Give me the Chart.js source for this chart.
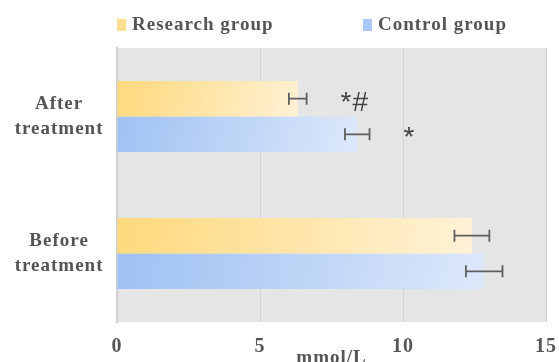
<!DOCTYPE html>
<html>
<head>
<meta charset="utf-8">
<script src="https://cdn.jsdelivr.net/npm/chart.js@4/dist/chart.umd.min.js"></script>
<style>
  html, body { margin: 0; padding: 0; background: #fff; }
  #wrap { width: 559px; height: 362px; }
</style>
</head>
<body>
<div id="wrap"><canvas id="c" width="559" height="362"></canvas></div>
<script>
// Blood glucose (mmol/L) before and after treatment
const categories = [['After', 'treatment'], ['Before', 'treatment']];
const seriesNames = ['Research group', 'Control group'];
const researchValues = [6.32, 12.41];
const controlValues = [8.40, 12.84];
const researchErrors = [0.31, 0.61];
const controlErrors = [0.43, 0.64];
const xTicks = [0, 5, 10, 15];
// significance marks shown beside the "After treatment" bars
const researchMarks = ['*#', ''];
const controlMarks = ['*', ''];

const SERIF = '"Liberation Serif", "Times New Roman", serif';
const TEXT = '#555555';

// horizontal gradient for each bar, from its base to its end
function barGradient(from, to) {
  return (ctx) => {
    if (ctx.type !== 'data') return from;
    const chart = ctx.chart;
    const xs = chart.scales.x, ys = chart.scales.y;
    if (!xs || !ys || !chart.chartArea) return from;
    const x0 = xs.getPixelForValue(0);
    const x1 = xs.getPixelForValue(ctx.raw);
    const yc = ys.getPixelForValue(ctx.dataIndex);
    const g = chart.ctx.createLinearGradient(x0, yc - 30, x1, yc + 30);
    g.addColorStop(0, from);
    g.addColorStop(1, to);
    return g;
  };
}

const plotBackground = {
  id: 'plotBackground',
  beforeDraw(chart) {
    const {ctx, chartArea: a} = chart;
    // slightly spaced lettering for all text on the canvas
    ctx.letterSpacing = '1px';
    ctx.save();
    ctx.fillStyle = '#e5e5e5';
    ctx.fillRect(a.left, a.top, a.right - a.left, a.bottom - a.top);
    ctx.restore();
  }
};

const errorBars = {
  id: 'errorBars',
  afterDatasetsDraw(chart) {
    const {ctx} = chart;
    const xs = chart.scales.x;
    ctx.save();
    ctx.strokeStyle = '#5f5f5f';
    ctx.lineWidth = 1.8;
    chart.data.datasets.forEach((ds, di) => {
      const meta = chart.getDatasetMeta(di);
      meta.data.forEach((bar, i) => {
        const v = ds.data[i], e = ds.errors[i];
        const xl = xs.getPixelForValue(v - e);
        const xr = xs.getPixelForValue(v + e);
        const y = bar.y, cap = 6;
        ctx.beginPath();
        ctx.moveTo(xl, y); ctx.lineTo(xr, y);
        ctx.moveTo(xl, y - cap); ctx.lineTo(xl, y + cap);
        ctx.moveTo(xr, y - cap); ctx.lineTo(xr, y + cap);
        ctx.stroke();
        const mark = ds.marks[i];
        if (mark) {
          ctx.fillStyle = '#444444';
          ctx.font = '28px "Liberation Sans", Arial, sans-serif';
          ctx.textAlign = 'left';
          ctx.textBaseline = 'alphabetic';
          ctx.fillText(mark, xr + 34, y + 12);
        }
      });
    });
    ctx.restore();
  }
};

const topLegend = {
  id: 'topLegend',
  afterDraw(chart) {
    const {ctx} = chart;
    const starts = [117, 363];
    ctx.save();
    ctx.font = 'bold 19px ' + SERIF;
    ctx.textBaseline = 'middle';
    ctx.textAlign = 'left';
    chart.data.datasets.forEach((ds, i) => {
      const x = starts[i];
      ctx.fillStyle = ds.legendColor;
      ctx.fillRect(x, 19, 9, 12);
      ctx.fillStyle = TEXT;
      ctx.fillText(ds.label, x + 15, 25);
    });
    ctx.restore();
  }
};

new Chart(document.getElementById('c'), {
  type: 'bar',
  data: {
    labels: categories,
    datasets: [
      {
        label: seriesNames[0],
        data: researchValues,
        errors: researchErrors,
        marks: researchMarks,
        legendColor: '#ffdf8f',
        backgroundColor: barGradient('#ffd97c', '#fff2d9'),
        borderWidth: 0,
        categoryPercentage: 0.52,
        barPercentage: 1.0
      },
      {
        label: seriesNames[1],
        data: controlValues,
        errors: controlErrors,
        marks: controlMarks,
        legendColor: '#a9c8f5',
        backgroundColor: barGradient('#9dc0f3', '#dde8fa'),
        borderWidth: 0,
        categoryPercentage: 0.52,
        barPercentage: 1.0
      }
    ]
  },
  options: {
    indexAxis: 'y',
    responsive: false,
    animation: false,
    devicePixelRatio: 1,
    layout: { padding: { top: 48, right: 13, bottom: 0, left: 0 } },
    plugins: {
      legend: { display: false },
      tooltip: { enabled: false }
    },
    scales: {
      x: {
        min: 0,
        max: 15,
        afterBuildTicks(scale) { scale.ticks = xTicks.map(v => ({ value: v })); },
        afterFit(scale) {
          scale.height = 40;
          scale.paddingLeft = 0;
          scale.paddingRight = 0;
        },
        grid: { color: '#d3d3d3', lineWidth: 1, drawTicks: false },
        border: { display: false },
        ticks: {
          padding: 13,
          color: TEXT,
          font: { family: SERIF, size: 20, weight: 'bold' }
        },
        title: {
          display: true,
          text: 'mmol/L',
          color: TEXT,
          font: { family: SERIF, size: 19, weight: 'bold' },
          padding: { top: 0, bottom: -7 }
        }
      },
      y: {
        afterFit(scale) {
          scale.width = 117;
          scale.paddingTop = 0;
          scale.paddingBottom = 0;
        },
        grid: { display: false, drawTicks: false },
        border: { display: true, color: '#d0d0d0', width: 2 },
        ticks: {
          crossAlign: 'center',
          padding: 18,
          color: TEXT,
          font: { family: SERIF, size: 19, weight: 'bold', lineHeight: 1.3 }
        }
      }
    }
  },
  plugins: [plotBackground, errorBars, topLegend]
});
</script>
</body>
</html>
